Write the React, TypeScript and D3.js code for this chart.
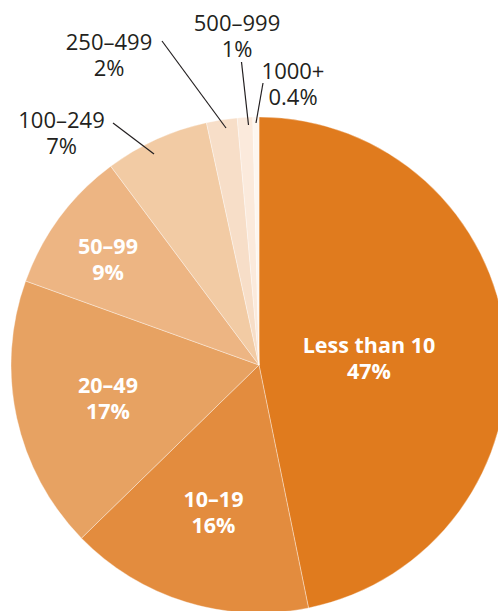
import React from "react";
import * as d3 from "d3";

const categories = ["Less than 10", "10–19", "20–49", "50–99", "100–249", "250–499", "500–999", "1000+"];
const shares = [46.8, 15.9, 17.8, 9.3, 6.8, 2.0, 1.0, 0.4];
const shareLabels = ["47%", "16%", "17%", "9%", "7%", "2%", "1%", "0.4%"];

const colors = ["#E07B1E", "#E38C3E", "#E7A262", "#EDB583", "#F2CBA4", "#F7DEC8", "#FBEADC", "#FDF6EF"];

// label layout (relative to pie centre): text x, first baseline y, inside?, leader line
const labelLayout = [
  { x: 110, y: -12, inside: true },
  { x: -45.5, y: 142, inside: true },
  { x: -151, y: 28, inside: true },
  { x: -151, y: -111, inside: true },
  { x: -197.5, y: -237, inside: false, line: [-146, -242, -105, -211] },
  { x: -150, y: -315, inside: false, line: [-97, -324, -33, -237] },
  { x: -22, y: -334.5, inside: false, line: [-17.5, -303, -10.5, -240] },
  { x: 34, y: -286, inside: false, line: [4, -282, -3, -242] },
];

const W = 498;
const H = 611;
const cx = 259;
const cy = 365;
const R = 248;

export default function App() {
  const pie = d3.pie<number>().sort(null).value((d) => d)(shares);
  const arc = d3.arc<d3.PieArcDatum<number>>().innerRadius(0).outerRadius(R);
  return (
    <svg
      width={W}
      height={H}
      style={{ position: "absolute", left: 0, top: 0, display: "block" }}
    >
      <g transform={`translate(${cx},${cy})`}>
        {pie.map((p, i) => (
          <path
            key={i}
            d={arc(p) || ""}
            fill={colors[i]}
            stroke="#ffffff"
            strokeOpacity={0.6}
            strokeWidth={0.6}
          />
        ))}
        {labelLayout.map((l, i) => (
          <g key={"l" + i}>
            {l.line && (
              <line
                x1={l.line[0]}
                y1={l.line[1]}
                x2={l.line[2]}
                y2={l.line[3]}
                stroke="#231f20"
                strokeWidth={1.2}
              />
            )}
            <text
              x={l.x}
              y={l.y}
              textAnchor="middle"
              fontFamily="'Open Sans', sans-serif"
              fontSize={l.inside ? 21.5 : 22}
              fontWeight={l.inside ? 700 : 400}
              fill={l.inside ? "#ffffff" : "#231f20"}
            >
              <tspan x={l.x} dy={0}>{categories[i]}</tspan>
              <tspan x={l.x} dy={l.inside ? 25.5 : 26}>{shareLabels[i]}</tspan>
            </text>
          </g>
        ))}
      </g>
    </svg>
  );
}
